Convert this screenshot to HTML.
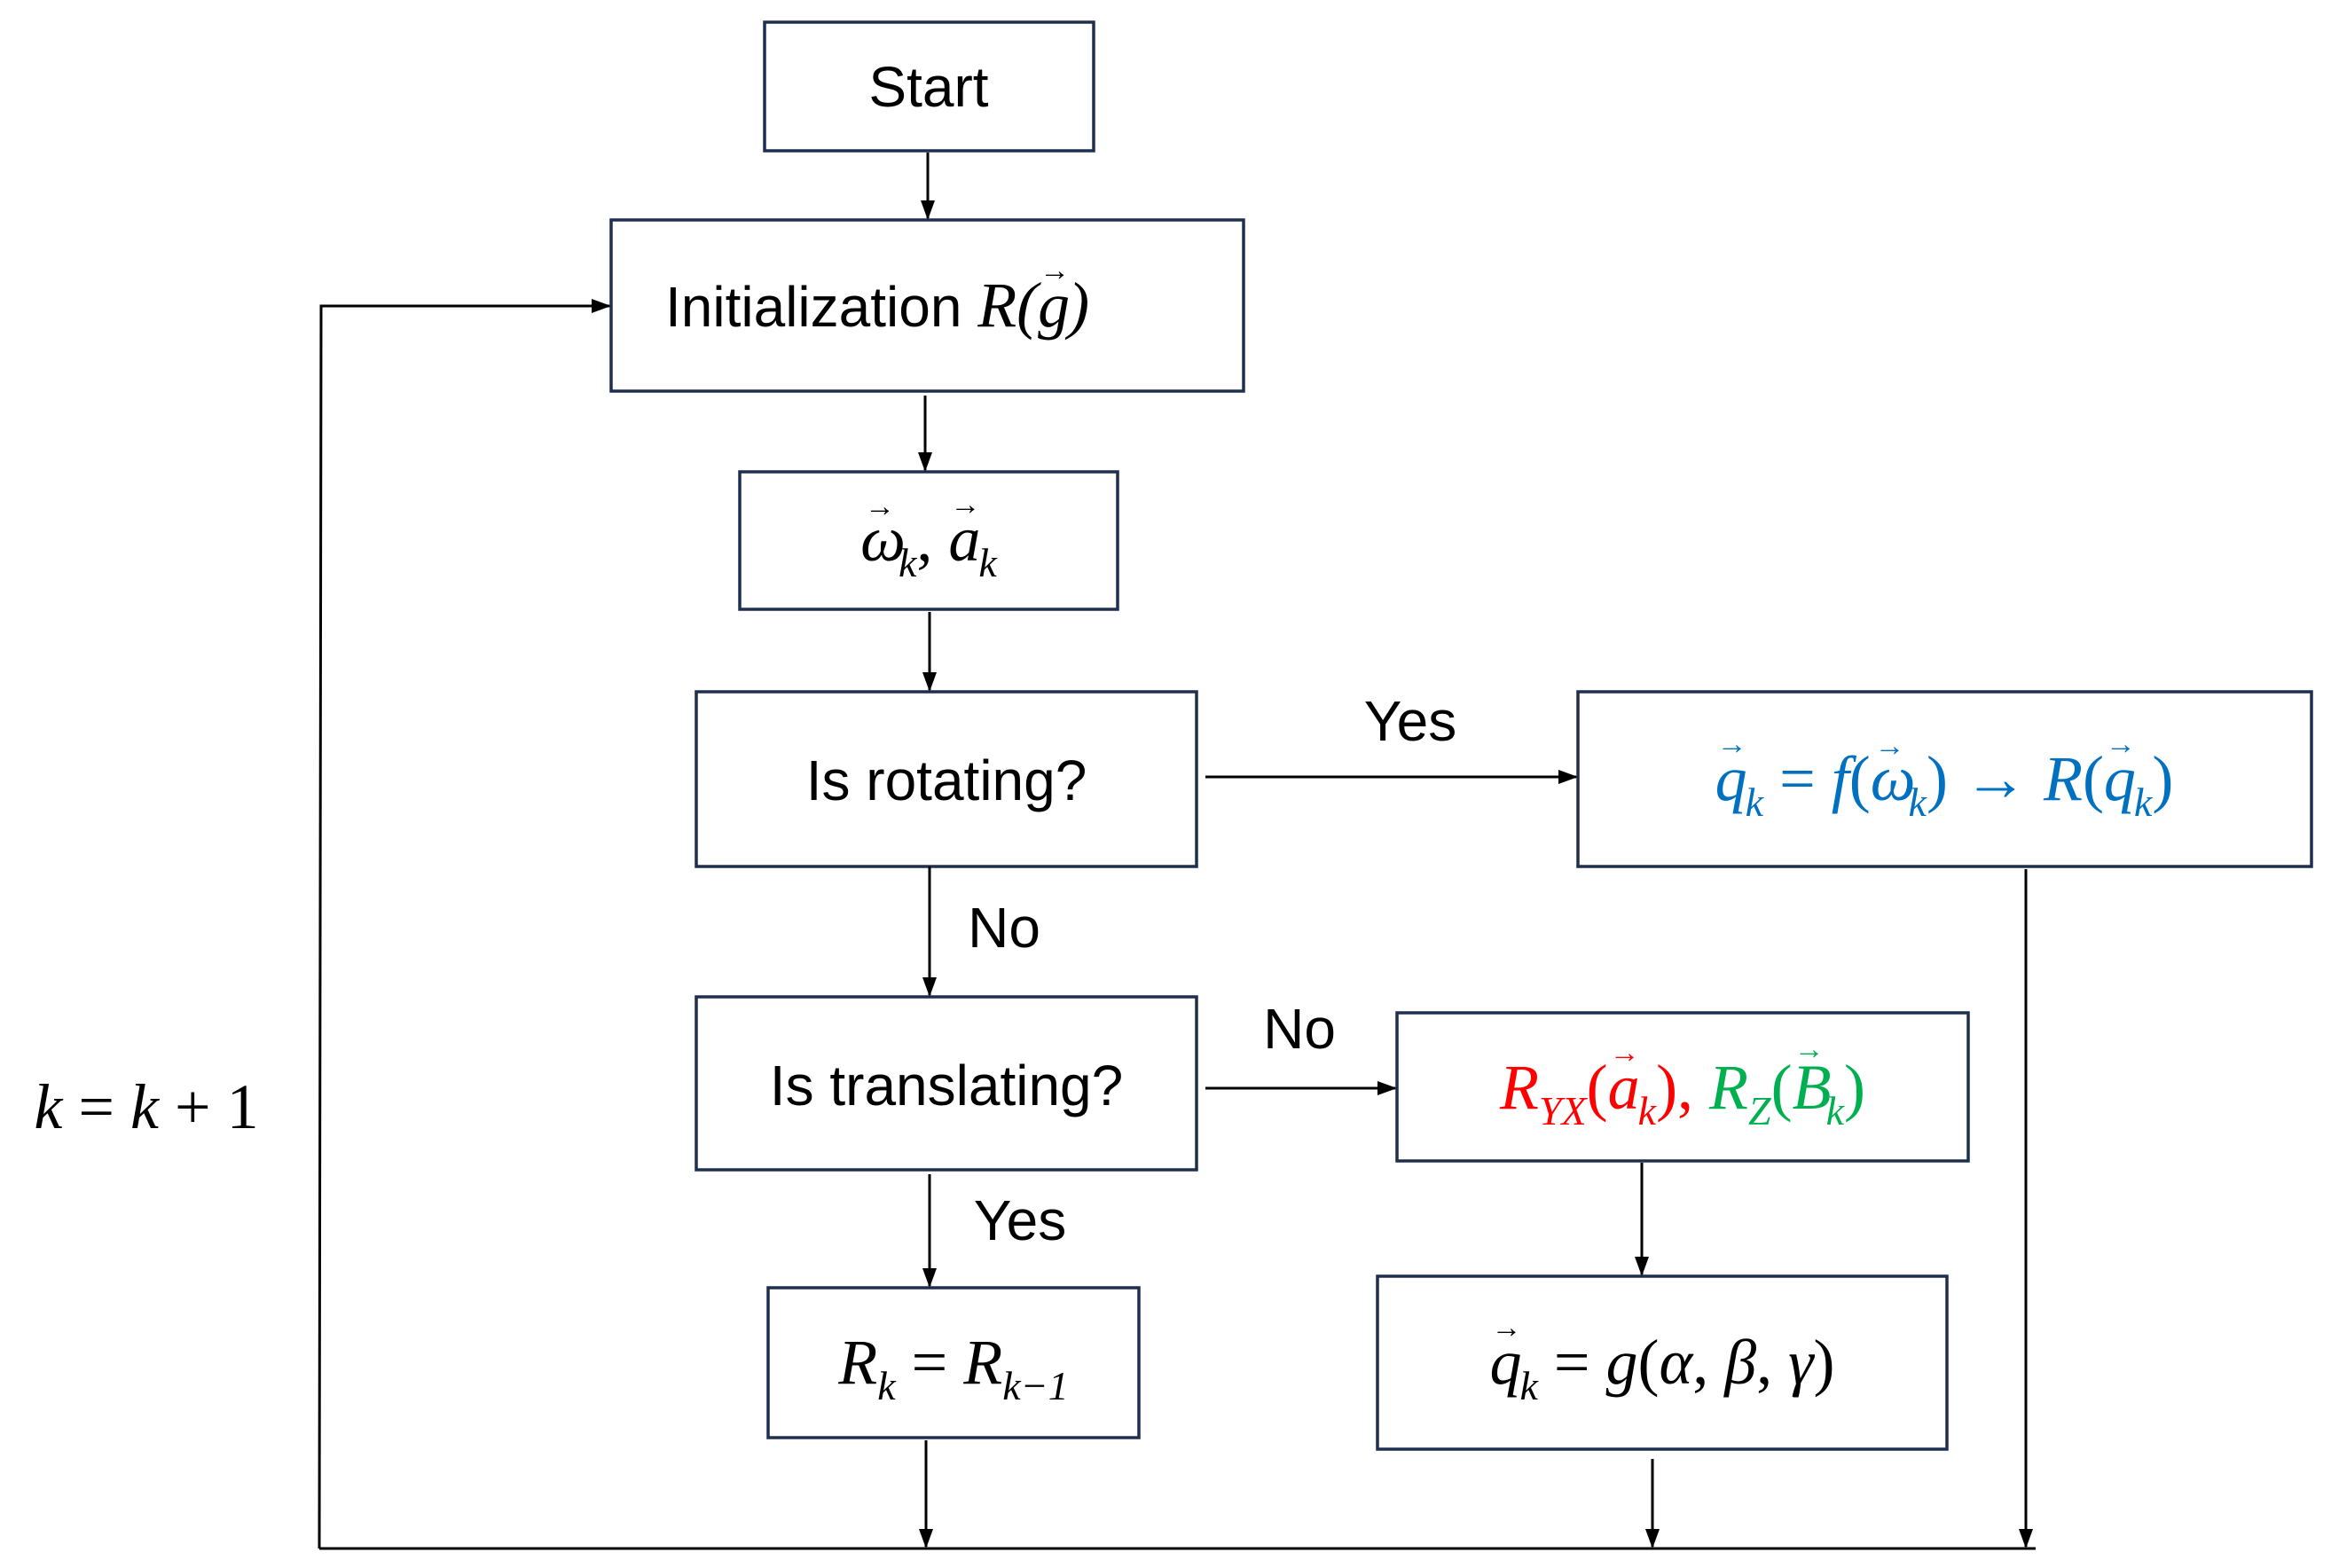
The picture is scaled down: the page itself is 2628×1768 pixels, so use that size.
<!DOCTYPE html>
<html><head><meta charset="utf-8"><style>
html,body{margin:0;padding:0;background:#fff;}
svg{display:block;}
.t{font-family:"Liberation Sans",sans-serif;font-size:64px;fill:#000;}
.m{font-family:"Liberation Serif",serif;font-style:italic;font-size:72px;}
.s{font-size:46px;}
.v{font-size:34px;font-style:normal;}
</style></head><body>
<svg width="2628" height="1768" viewBox="0 0 2628 1768" xmlns="http://www.w3.org/2000/svg">
<defs>
<marker id="b" markerWidth="22" markerHeight="22" refX="20" refY="11" orient="auto" markerUnits="userSpaceOnUse"><path d="M0,3 L22,11 L0,19 z" fill="#000"/></marker></defs>
<g fill="none" stroke="#1f2f4f" stroke-width="3.5">
<rect x="862" y="25" width="371" height="145"/>
<rect x="689" y="248" width="713" height="193"/>
<rect x="834" y="532" width="426" height="155"/>
<rect x="785" y="780" width="564" height="197"/>
<rect x="1779" y="780" width="827" height="197"/>
<rect x="785" y="1124" width="564" height="195"/>
<rect x="1575" y="1142" width="644" height="167"/>
<rect x="1553" y="1439" width="642" height="195"/>
<rect x="866" y="1452" width="418" height="169"/>
</g>
<g stroke="#000" stroke-width="3" fill="none" marker-end="url(#b)">
<line x1="1046" y1="172" x2="1046" y2="246"/>
<line x1="1043" y1="446" x2="1043" y2="530"/>
<line x1="1048" y1="690" x2="1048" y2="778"/>
<line x1="1048" y1="977" x2="1048" y2="1122"/>
<line x1="1359" y1="876" x2="1777" y2="876"/>
<line x1="1359" y1="1227" x2="1573" y2="1227"/>
<line x1="1048" y1="1324" x2="1048" y2="1450"/>
<line x1="1851" y1="1311" x2="1851" y2="1437"/>
<line x1="1044" y1="1624" x2="1044" y2="1744"/>
<line x1="1863" y1="1645" x2="1863" y2="1744"/>
<line x1="2284" y1="980" x2="2284" y2="1744"/>
<polyline points="360,1746 362,345 687,345"/>
</g>
<line x1="360" y1="1746" x2="2295" y2="1746" stroke="#000" stroke-width="3"/>
<text class="t" x="1047" y="120" text-anchor="middle">Start</text>
<text class="t" x="750" y="368">Initialization <tspan class="m">R</tspan><tspan class="m" font-style="normal">(</tspan><tspan class="m">g</tspan><tspan class="m v" dx="-34" dy="-52">→</tspan><tspan class="m" font-style="normal" dx="-2" dy="52">)</tspan></text>
<text class="m" x="1047" y="632" text-anchor="middle">ω<tspan class="v" dx="-46" dy="-50">→</tspan><tspan class="s" dx="4" dy="68">k</tspan><tspan dy="-18" font-style="normal">, </tspan>a<tspan class="v" dx="-34" dy="-52">→</tspan><tspan class="s" dx="-2" dy="70">k</tspan></text>
<text class="t" x="1067" y="902" text-anchor="middle">Is rotating?</text>
<text class="t" x="1067" y="1246" text-anchor="middle">Is translating?</text>
<text class="t" x="1590" y="835" text-anchor="middle">Yes</text>
<text class="t" x="1132" y="1068" text-anchor="middle">No</text>
<text class="t" x="1465" y="1182" text-anchor="middle">No</text>
<text class="t" x="1150" y="1398" text-anchor="middle">Yes</text>
<text class="m" x="2192" y="902" text-anchor="middle" fill="#0070c0">q<tspan class="v" dx="-34" dy="-52">→</tspan><tspan class="s" dx="-2" dy="70">k</tspan><tspan dy="-18" font-style="normal"> = </tspan>f<tspan font-style="normal">(</tspan>ω<tspan class="v" dx="-46" dy="-50">→</tspan><tspan class="s" dx="4" dy="68">k</tspan><tspan dy="-18" font-style="normal">) →  </tspan>R<tspan font-style="normal">(</tspan>q<tspan class="v" dx="-34" dy="-52">→</tspan><tspan class="s" dx="-2" dy="70">k</tspan><tspan dy="-18" font-style="normal">)</tspan></text>
<text class="m" x="1897" y="1250" text-anchor="middle"><tspan fill="#ff0000">R<tspan class="s" dy="18">YX</tspan><tspan dy="-18" font-style="normal">(</tspan>a<tspan class="v" dx="-34" dy="-52">→</tspan><tspan class="s" dx="-2" dy="70">k</tspan><tspan dy="-18" font-style="normal">),</tspan></tspan><tspan fill="#00b050"> R<tspan class="s" dy="18">Z</tspan><tspan dy="-18" font-style="normal">(</tspan>B<tspan class="v" dx="-42" dy="-56">→</tspan><tspan class="s" dx="2" dy="74">k</tspan><tspan dy="-18" font-style="normal">)</tspan></tspan></text>
<text class="m" x="1874" y="1560" text-anchor="middle">q<tspan class="v" dx="-34" dy="-52">→</tspan><tspan class="s" dx="-2" dy="70">k</tspan><tspan dy="-18" font-style="normal"> = </tspan>g<tspan font-style="normal">(</tspan>α<tspan font-style="normal">, </tspan>β<tspan font-style="normal">, </tspan>γ<tspan font-style="normal">)</tspan></text>
<text class="m" x="1075" y="1560" text-anchor="middle">R<tspan class="s" dy="18">k</tspan><tspan dy="-18" font-style="normal"> = </tspan>R<tspan class="s" dy="18">k−1</tspan></text>
<text class="m" x="165" y="1272" text-anchor="middle">k<tspan font-style="normal"> = </tspan>k<tspan font-style="normal"> + 1</tspan></text>
</svg>
</body></html>
